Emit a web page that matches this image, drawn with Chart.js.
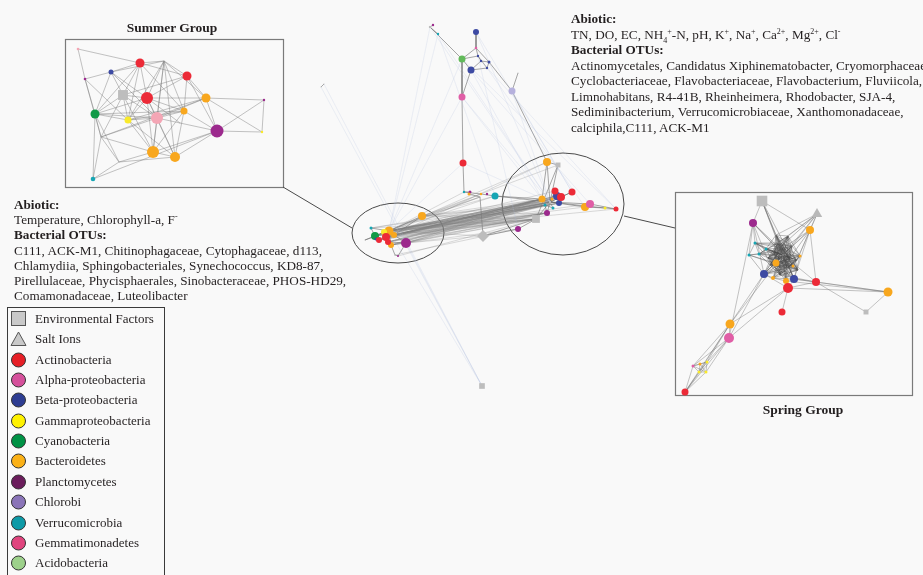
<!DOCTYPE html>
<html>
<head>
<meta charset="utf-8">
<script src="https://cdn.jsdelivr.net/npm/chart.js@4.4.1/dist/chart.umd.min.js"></script>
<style>
html, body { margin: 0; padding: 0; background: #f9f9f9; }
#wrap { position: relative; width: 923px; height: 575px; overflow: hidden;
        font-family: "Liberation Serif", "Times New Roman", serif; color: #231f20; }
#net { position: absolute; left: 0; top: 0; }
.note { position: absolute; font-size: 13.2px; line-height: 15.5px; white-space: nowrap; }
.note sup, .note sub { font-size: 8px; line-height: 0; }
.title { position: absolute; font-weight: bold; font-size: 13.5px; white-space: nowrap; transform: translateX(-50%); }
.legend { position: absolute; left: 7px; top: 307px; width: 158px; height: 290px;
          border: 1px solid #3a3a3a; box-sizing: border-box; }
.row { position: absolute; left: 0; height: 20px; width: 156px; font-size: 13px; line-height: 20px; }
.row svg { position: absolute; left: 2px; top: 1px; }
.row span { position: absolute; left: 27px; top: 0; white-space: nowrap; }
</style>
</head>
<body>
<div id="wrap">
  <canvas id="net" width="923" height="575"></canvas>

  <div class="title" style="left:172px; top:20px;">Summer Group</div>
  <div class="title" style="left:803px; top:402px;">Spring Group</div>

  <div class="note" style="left:571px; top:11px;">
    <b>Abiotic:</b><br>
    TN, DO, EC, NH<sub>4</sub><sup>+</sup>-N, pH, K<sup>+</sup>, Na<sup>+</sup>, Ca<sup>2+</sup>, Mg<sup>2+</sup>, Cl<sup>-</sup><br>
    <b>Bacterial OTUs:</b><br>
    Actinomycetales, Candidatus Xiphinematobacter, Cryomorphaceae,<br>
    Cyclobacteriaceae, Flavobacteriaceae, Flavobacterium, Fluviicola,<br>
    Limnohabitans, R4-41B, Rheinheimera, Rhodobacter, SJA-4,<br>
    Sediminibacterium, Verrucomicrobiaceae, Xanthomonadaceae,<br>
    calciphila,C111, ACK-M1
  </div>

  <div class="note" style="left:14px; top:197px; line-height:15.2px;">
    <b>Abiotic:</b><br>
    Temperature, Chlorophyll-a, F<sup>-</sup><br>
    <b>Bacterial OTUs:</b><br>
    C111, ACK-M1, Chitinophagaceae, Cytophagaceae, d113,<br>
    Chlamydiia, Sphingobacteriales, Synechococcus, KD8-87,<br>
    Pirellulaceae, Phycisphaerales, Sinobacteraceae, PHOS-HD29,<br>
    Comamonadaceae, Luteolibacter
  </div>

  <div class="legend" id="legend"></div>
</div>

<script>
// ---- legend entries ----
const legendLabels = ["Environmental Factors", "Salt Ions", "Actinobacteria", "Alpha-proteobacteria",
  "Beta-proteobacteria", "Gammaproteobacteria", "Cyanobacteria", "Bacteroidetes", "Planctomycetes",
  "Chlorobi", "Verrucomicrobia", "Gemmatimonadetes", "Acidobacteria"];
const legendColors = ["#c9c9c9", "#c9c9c9", "#e61f26", "#d5509b", "#2e3d92", "#fff200", "#009245",
  "#fbb117", "#6b1d5c", "#8a74b8", "#0e9aa7", "#e0447e", "#9dd18b"];
const legendShapes = ["square", "triangle", "circle", "circle", "circle", "circle", "circle",
  "circle", "circle", "circle", "circle", "circle", "circle"];

// ---- node colours inside the networks ----
const groupColor = {
  Env: "#bdbdbd", EnvD: "#bdbdbd", Salt: "#b8b8b8", Act: "#ec2a37", Alp: "#e05ea6",
  Beta: "#3d4aa3", Gam: "#f9ea2a", Cya: "#119a47", Bac: "#f8a71e", Plan: "#9c2a8d",
  Chl: "#b6b1dd", Ver: "#17a6b4", Gem: "#f4a6b5", Aci: "#62ba5a"
};
const groupShape = { Env: "rect", EnvD: "rectRot", Salt: "triangle" };

// ---- summer network: [x, y, group, weight] ----
const summerNodes = [
  [78, 49, "Gem", 1.3], [140, 63, "Act", 4.5], [164, 61, "Env", 0.8], [111, 72, "Beta", 2.5],
  [85, 79, "Plan", 1.3], [187, 76, "Act", 4.5], [123, 95, "Env", 7], [147, 98, "Act", 6],
  [206, 98, "Bac", 4.5], [264, 100, "Plan", 1.2], [95, 114, "Cya", 4.5], [128, 120, "Gam", 3.5],
  [157, 118, "Gem", 6], [184, 111, "Bac", 3.5], [217, 131, "Plan", 6.5], [262, 132, "Gam", 1.2],
  [101, 137, "Env", 0.8], [119, 162, "Env", 0.8], [153, 152, "Bac", 6], [175, 157, "Bac", 5],
  [93, 179, "Ver", 2.3], [180, 123, "Env", 0.8]
];
const summerEdges = [
  [0,1],[0,4],[1,2],[1,3],[1,5],[1,6],[1,7],[1,10],[1,11],[1,13],[2,3],[2,5],[2,7],[2,8],[2,12],
  [2,13],[2,11],[3,4],[3,6],[3,7],[3,10],[3,12],[4,10],[4,11],[4,16],[5,7],[5,8],[5,13],[5,6],
  [5,14],[6,7],[6,10],[6,11],[6,12],[6,16],[6,18],[7,8],[7,10],[7,11],[7,12],[7,13],[7,18],[7,19],
  [8,9],[8,12],[8,14],[8,11],[8,16],[8,15],[9,14],[9,15],[10,11],[10,12],[10,13],[10,16],[10,17],
  [10,20],[11,12],[11,13],[11,18],[11,19],[12,13],[12,18],[12,19],[12,16],[13,14],[13,19],[13,18],
  [14,15],[14,18],[14,20],[14,21],[16,17],[16,18],[16,20],[17,18],[17,19],[17,20],[18,19],[19,14],
  [21,12],[21,7],[2,19],[2,18]
];

// ---- spring network ----
const springNodes = [
  [762, 201, "Env", 7.5], [817, 214, "Salt", 6], [753, 223, "Plan", 4], [810, 230, "Bac", 4],
  [755, 243, "Ver", 1.5], [766, 249, "Ver", 1.5], [749, 255, "Ver", 1.5], [759, 254, "Ver", 1.5],
  [776, 263, "Bac", 3.5], [783, 255, "Env", 0.8], [800, 256, "Bac", 1.5], [793, 266, "Bac", 1.5],
  [764, 274, "Beta", 4], [794, 279, "Beta", 4], [773, 278, "Bac", 2], [786, 281, "Bac", 3],
  [816, 282, "Act", 4], [788, 288, "Act", 5], [888, 292, "Bac", 4.5], [866, 312, "Env", 3.5],
  [782, 312, "Act", 3.5], [730, 324, "Bac", 4.5], [729, 338, "Alp", 5], [693, 366, "Alp", 1.5],
  [699, 372, "Gam", 1.5], [706, 372, "Gam", 1.5], [707, 362, "Gam", 1.5], [700, 364, "Bac", 1.5],
  [685, 392, "Act", 3.5], [778, 243, "Env", 0.6], [792, 246, "Env", 0.6], [770, 265, "Env", 0.6],
  [787, 268, "Env", 0.6], [797, 260, "Env", 0.6], [776, 235, "Env", 0.6], [788, 236, "Env", 0.6],
  [782, 248, "Env", 0.5], [774, 252, "Env", 0.5], [790, 258, "Env", 0.5], [780, 275, "Env", 0.5],
  [768, 258, "Env", 0.5], [798, 270, "Env", 0.5]
];
const springEdges = [
  [0,2],[0,9],[0,29],[0,34],[0,3],[0,13],[1,3],[1,9],[1,29],[1,30],[1,35],[1,34],[1,33],[2,22],
  [2,9],[2,4],[2,31],[3,9],[3,30],[3,33],[3,16],[3,13],
  [16,17],[16,18],[16,13],[16,9],[16,19],[17,18],[17,20],[17,21],[17,22],[17,13],[17,12],[17,9],
  [15,18],[18,19],[13,18],[21,22],[21,12],[21,9],[22,12],[22,23],[22,25],[22,26],[21,26],[21,23],
  [21,24],[23,24],[23,25],[23,26],[23,27],[24,25],[24,26],[24,27],[25,26],[25,27],[26,27],[28,23],
  [28,24],[28,25],[28,26],[28,21],[28,22],[2,12],[6,2]
];
// densely linked core of the spring network
const springCore = [
  [4,5],[4,6],[4,7],[5,7],[5,9],[6,7],[6,12],[7,9],[7,29],[8,9],[8,10],[8,11],[8,12],[8,13],[8,29],
  [8,30],[8,31],[8,32],[8,33],[8,34],[8,35],[9,10],[9,11],[9,12],[9,13],[9,14],[9,15],[9,29],[9,30],
  [9,31],[9,32],[9,33],[9,34],[9,35],[10,11],[10,13],[10,29],[10,30],[10,31],[10,32],[10,35],[11,12],
  [11,14],[11,15],[11,29],[11,34],[11,31],[12,14],[12,29],[12,30],[12,32],[12,33],[12,35],[13,14],
  [13,15],[13,29],[13,31],[13,34],[14,15],[14,30],[14,33],[15,29],[15,30],[15,35],[29,30],
  [29,31],[29,32],[29,33],[30,31],[30,32],[30,34],[31,32],[31,33],[32,33],[32,34],[33,34],[34,35],
  [35,29],[35,31],[4,30],[5,33],[6,32],[7,35],[5,34],[4,29],
  [36,4],[36,5],[36,7],[36,8],[36,10],[36,11],[36,12],[36,13],[36,14],[36,15],[36,29],[36,30],
  [36,31],[36,32],[36,33],[36,34],[36,35],[36,37],[36,38],[36,39],[36,40],[36,41],
  [37,4],[37,5],[37,6],[37,8],[37,10],[37,11],[37,13],[37,15],[37,29],[37,30],[37,32],[37,33],
  [37,34],[37,35],[37,38],[37,39],[37,41],
  [38,4],[38,5],[38,7],[38,8],[38,12],[38,14],[38,29],[38,31],[38,34],[38,35],[38,39],[38,40],
  [38,3],[38,2],
  [39,5],[39,7],[39,8],[39,10],[39,29],[39,30],[39,33],[39,34],[39,35],[39,40],[39,41],[39,16],
  [40,4],[40,10],[40,11],[40,13],[40,15],[40,29],[40,30],[40,33],[40,35],[40,41],[40,3],[40,1],
  [41,4],[41,5],[41,6],[41,7],[41,12],[41,14],[41,29],[41,31],[41,34],[41,35],[41,0],[41,2]
];

// ---- overall network ----
const mainNodes = [
  [430, 27, "Env", 1.5], [433, 25, "Plan", 1.2], [438, 34, "Ver", 1.2], [476, 32, "Beta", 3],
  [476, 48, "Alp", 1.3], [462, 59, "Aci", 3.5], [478, 56, "Beta", 1.2], [481, 61, "Beta", 1.2],
  [489, 62, "Beta", 1.5], [487, 68, "Beta", 1.2], [471, 70, "Beta", 3.5], [518, 73, "Env", 0.6],
  [512, 91, "Chl", 3.5], [462, 97, "Alp", 3.5], [463, 163, "Act", 3.5], [547, 162, "Bac", 4],
  [558, 165, "Env", 3.5], [464, 192, "Ver", 1.2], [470, 192, "Plan", 1.5], [469, 194, "Bac", 1.5],
  [481, 194, "Bac", 1.2], [487, 194, "Plan", 1.2], [495, 196, "Ver", 3.5], [480, 197, "Env", 0.8],
  [555, 191, "Act", 3.5], [572, 192, "Act", 3.5], [557, 196, "Beta", 4], [561, 197, "Act", 4],
  [542, 199, "Bac", 3.5], [550, 202, "Env", 1.5], [559, 203, "Beta", 3], [547, 213, "Plan", 3],
  [553, 208, "Ver", 1.5], [590, 204, "Alp", 4], [585, 207, "Bac", 4], [605, 208, "Gam", 1.5],
  [616, 209, "Act", 2.5], [536, 219, "Env", 5.5], [518, 229, "Plan", 3], [483, 236, "EnvD", 6],
  [422, 216, "Bac", 4], [371, 228, "Ver", 1.5], [375, 236, "Cya", 4], [384, 232, "Gam", 3],
  [389, 231, "Bac", 4.5], [386, 237, "Act", 4], [379, 240, "Act", 3], [376, 239, "Beta", 1.5],
  [388, 242, "Act", 3], [394, 235, "Bac", 3], [391, 245, "Bac", 3], [406, 243, "Plan", 5],
  [395, 255, "Env", 1], [398, 256, "Plan", 1], [365, 240, "Env", 0.6], [482, 386, "Env", 4],
  [321, 87, "Env", 0.6], [324, 84, "Env", 0.6], [545, 205, "Ver", 1.5], [552, 199, "Bac", 1.5]
];
const mainEdges = [
  [0,1],[0,2],[0,5],[3,4],[4,5],[4,6],[4,8],[5,6],[5,10],[5,13],[6,7],[6,9],[7,8],[7,10],[8,9],
  [9,10],[8,12],[11,12],[12,15],[13,14],[14,17],[10,13],
  [17,20],[20,22],[22,28],[22,29],[18,19],[19,23],[23,39],[17,18],[15,16],[15,28],[16,29],[15,29],
  [24,29],[25,29],[26,29],[27,29],[28,29],[30,29],[31,29],[32,29],[33,29],[34,29],[34,35],[35,36],
  [33,36],[29,35],[37,29],[38,37],[39,37],[39,38],[24,27],[25,27],[26,30],[58,29],[59,29],[58,31],
  [58,32],[33,34],[16,37],[26,24],[59,28],
  [40,44],[41,44],[42,43],[42,44],[43,44],[44,45],[45,46],[46,47],[44,49],[45,48],[48,50],[49,51],
  [50,51],[51,53],[52,53],[50,52],[48,51],[54,42],[54,44],[42,46],[44,48],[45,49],[44,50],[41,42],
  [40,49],[44,29],[49,28],[56,57]
];
const mainBundle = [
  [44,28],[44,37],[44,31],[45,29],[49,29],[49,59],[43,29],[42,29],[46,29],[48,37],[48,58],[51,37],
  [51,38],[40,28],[40,22],[44,22],[42,20],[43,23],[49,37],[49,31],[44,58],[50,29],[45,28],[43,28],
  [42,28],[44,24],[44,33],[44,39],[51,39],[44,17],[44,23],[40,23],[45,37],[46,37],[48,29],[43,58],
  [44,26],[49,30],[45,59],[42,37],[41,29],[44,34],[40,29],[44,15],[49,15],[40,16],[44,36],[50,37],
  [44,27],[42,58],
  [42,31],[42,59],[43,37],[43,31],[43,59],[45,31],[45,58],[46,28],[46,58],[46,31],[48,28],[48,31],
  [48,59],[49,58],[50,28],[50,31],[50,58],[51,29],[51,28],[51,31],[51,58],[42,30],[43,26],[45,30],
  [46,26],[48,30],[50,59],[41,28],[41,37],[47,29],[47,37],[40,37],[40,31],[40,58],[53,37],[52,38],
  [44,30],[45,26],[49,26],[44,59],[43,30]
];
const mainFaint = [
  [56,55],[57,55],[0,44],[0,29],[2,44],[2,29],[3,29],[5,36],[10,33],[13,29],[12,29],[7,36],[9,34],
  [13,44],[5,44],[10,28],[3,25],[44,55],[51,55],[14,29],[14,44],[12,25],[13,28],[2,22],[6,38]
];

// ---- build the legend ----
const legendEl = document.getElementById("legend");
legendLabels.forEach((label, i) => {
  const row = document.createElement("div");
  row.className = "row";
  row.style.top = (1 + i * 20.35) + "px";
  let mark;
  if (legendShapes[i] === "square") {
    mark = '<rect x="1.5" y="1.5" width="14" height="14" fill="' + legendColors[i] + '" stroke="#555" stroke-width="1"/>';
  } else if (legendShapes[i] === "triangle") {
    mark = '<polygon points="8.5,2 16,15.5 1,15.5" fill="' + legendColors[i] + '" stroke="#555" stroke-width="1"/>';
  } else {
    mark = '<circle cx="8.5" cy="9" r="7" fill="' + legendColors[i] + '" stroke="#333" stroke-width="1"/>';
  }
  row.innerHTML = '<svg width="18" height="18">' + mark + '</svg><span>' + label + '</span>';
  legendEl.appendChild(row);
});

// ---- chart datasets ----
function edgeData(nodes, edges) {
  const out = [];
  edges.forEach(([a, b]) => {
    out.push({ x: nodes[a][0], y: nodes[a][1] }, { x: nodes[b][0], y: nodes[b][1] }, { x: nodes[b][0], y: null });
  });
  return out;
}
function edgeSet(nodes, edges, color, width) {
  return { type: "scatter", showLine: true, spanGaps: false, data: edgeData(nodes, edges),
           borderColor: color, borderWidth: width, pointRadius: 0, order: 10 };
}

const allNodes = summerNodes.concat(springNodes, mainNodes);
const groups = Object.keys(groupColor);
const nodeSets = groups.map(g => {
  const pts = allNodes.filter(n => n[2] === g);
  return {
    type: "scatter",
    data: pts.map(n => ({ x: n[0], y: n[1] })),
    pointRadius: pts.map(n => n[3]),
    pointStyle: groupShape[g] || "circle",
    backgroundColor: groupColor[g],
    borderWidth: 0,
    order: 1
  };
});

const datasets = [
  edgeSet(mainNodes, mainFaint, "rgba(175,186,222,0.3)", 0.7),
  edgeSet(mainNodes, mainBundle, "rgba(125,125,125,0.3)", 0.9),
  edgeSet(mainNodes, mainEdges, "rgba(105,105,105,0.65)", 0.9),
  edgeSet(summerNodes, summerEdges, "rgba(120,120,120,0.55)", 0.8),
  edgeSet(springNodes, springEdges, "rgba(110,110,110,0.5)", 0.8),
  edgeSet(springNodes, springCore, "rgba(70,70,70,0.45)", 0.8)
].concat(nodeSets);

// insets, group outlines and their connectors
const frames = {
  id: "frames",
  beforeDatasetsDraw(chart) {
    const { ctx, scales: { x, y } } = chart;
    const px = v => x.getPixelForValue(v), py = v => y.getPixelForValue(v);
    ctx.save();
    ctx.strokeStyle = "#7a7a7a";
    ctx.lineWidth = 1.2;
    [[65, 39, 283, 187], [675, 192, 912, 395]].forEach(([x0, y0, x1, y1]) => {
      ctx.strokeRect(px(x0) + 0.5, py(y0) + 0.5, px(x1) - px(x0), py(y1) - py(y0));
    });
    ctx.strokeStyle = "#4a4a4a";
    ctx.lineWidth = 1;
    [[398, 233, 46, 30], [563, 204, 61, 51]].forEach(([cx, cy, rx, ry]) => {
      ctx.beginPath();
      ctx.ellipse(px(cx), py(cy), px(cx + rx) - px(cx), py(cy + ry) - py(cy), 0, 0, Math.PI * 2);
      ctx.stroke();
    });
    [[283, 187, 352, 228], [624, 216, 675, 228]].forEach(([x0, y0, x1, y1]) => {
      ctx.beginPath();
      ctx.moveTo(px(x0), py(y0));
      ctx.lineTo(px(x1), py(y1));
      ctx.stroke();
    });
    ctx.restore();
  }
};

new Chart(document.getElementById("net"), {
  type: "scatter",
  data: { datasets },
  options: {
    responsive: false,
    animation: false,
    events: [],
    layout: { padding: 0, autoPadding: false },
    scales: {
      x: { type: "linear", min: 0, max: 923, display: false },
      y: { type: "linear", min: 0, max: 575, reverse: true, display: false }
    },
    plugins: { legend: { display: false }, tooltip: { enabled: false } }
  },
  plugins: [frames]
});
</script>
</body>
</html>
